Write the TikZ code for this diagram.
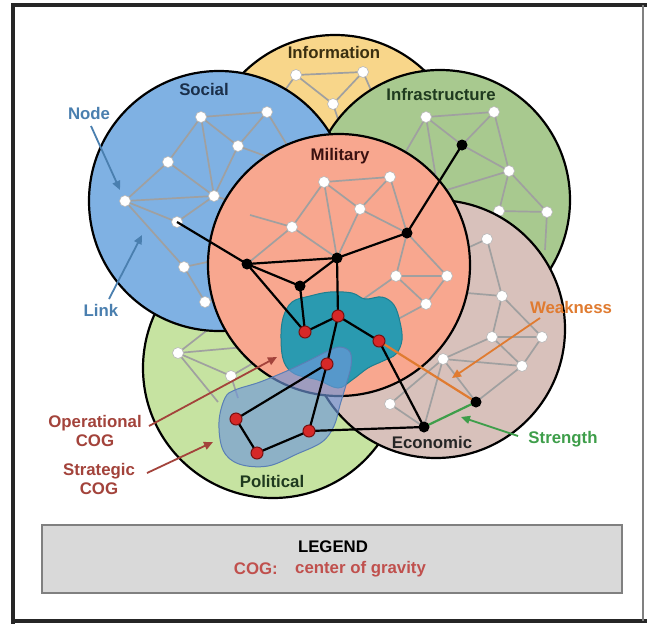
\documentclass[tikz,border=0pt]{standalone}
\usepackage{fontspec}
\setmainfont{Liberation Sans}
\usetikzlibrary{arrows.meta}
\definecolor{infoY}{HTML}{F8D68A}
\definecolor{socB}{HTML}{7FB1E3}
\definecolor{infG}{HTML}{A8C98F}
\definecolor{polG}{HTML}{C6E3A1}
\definecolor{ecoR}{HTML}{D8C1BB}
\definecolor{milS}{HTML}{F8A78F}
\definecolor{tealF}{HTML}{2A9AB0}
\definecolor{tealD}{HTML}{1E7F90}
\definecolor{stratF}{HTML}{6F97DA}
\definecolor{stratD}{HTML}{5A7FB5}
\definecolor{linkgray}{HTML}{A0A0A0}
\definecolor{cogred}{HTML}{D62828}
\definecolor{darkred}{HTML}{7A1010}
\definecolor{noteblue}{HTML}{4A7FAF}
\definecolor{weakO}{HTML}{E07B30}
\definecolor{strG}{HTML}{3E9E4A}
\definecolor{cogtxt}{HTML}{A3433B}
\definecolor{legred}{HTML}{C0504D}
\definecolor{legfill}{HTML}{D9D9D9}
\definecolor{socT}{HTML}{1A2F4A}
\definecolor{greenT}{HTML}{1F3A1F}
\definecolor{infoT}{HTML}{3A2F10}
\definecolor{milT}{HTML}{3A1010}
\begin{document}
\begin{tikzpicture}[x=1pt,y=-1pt,
  ring/.style={draw=black, line width=2.2pt},
  lnk/.style={draw=linkgray, line width=1.7pt},
  blk/.style={draw=black, line width=2.2pt},
  wnode/.style={circle, fill=white, draw=gray!55, line width=0.6pt, inner sep=0pt, minimum size=11pt},
  knode/.style={circle, fill=black, inner sep=0pt, minimum size=11pt},
  rnode/.style={circle, fill=cogred, draw=darkred, line width=1pt, inner sep=0pt, minimum size=12pt},
  lbl/.style={font=\fontsize{16.8}{19}\selectfont\bfseries, inner sep=0pt},
  callout/.style={line width=1.8pt, -{Triangle[length=9pt,width=8pt]}},
]
\useasboundingbox (0,0) rectangle (647,624);
\fill[white] (0,0) rectangle (647,624);

% ---------- domain centres ----------
\coordinate (cInfo) at (335,165);
\coordinate (cSoc) at (219,201);
\coordinate (cInf) at (440,200);
\coordinate (cPol) at (273,368);
\coordinate (cEco) at (436,329);
\coordinate (cMil) at (339,265);

% ---------- network points ----------
% information
\coordinate (n1) at (296,75);  \coordinate (n2) at (363,72);  \coordinate (n3) at (333,104);
\coordinate (n1a) at (272,108); \coordinate (n3a) at (345,140); \coordinate (n2a) at (385,122);
% infrastructure
\coordinate (f1) at (426,117); \coordinate (f2) at (494,112); \coordinate (f3) at (509,171);
\coordinate (f4) at (547,212); \coordinate (f5) at (499,211); \coordinate (kf) at (462,145);
\coordinate (f1a) at (398,165); \coordinate (f1b) at (436,178); \coordinate (f3a) at (440,192);
\coordinate (f4a) at (545,250); \coordinate (f5a) at (470,240);
% political
\coordinate (p1) at (178,353); \coordinate (p2) at (231,376);
\coordinate (p1a) at (245,347); \coordinate (p1b) at (210,328); \coordinate (p1c) at (218,402);
\coordinate (p2a) at (255,362); \coordinate (p2b) at (238,398);
% social
\coordinate (s1) at (201,117); \coordinate (s2) at (267,112); \coordinate (s3) at (238,146);
\coordinate (s4) at (168,162); \coordinate (s5) at (214,196); \coordinate (s6) at (125,201);
\coordinate (s7) at (177,222); \coordinate (s8) at (184,267); \coordinate (s9) at (205,302);
\coordinate (s2a) at (290,150); \coordinate (s3a) at (290,165); \coordinate (s5a) at (262,210);
\coordinate (s8a) at (240,255); \coordinate (s9a) at (245,292);
% economic
\coordinate (e1) at (487,239); \coordinate (e2) at (502,296); \coordinate (e3) at (492,337);
\coordinate (e4) at (542,337); \coordinate (e5) at (443,359); \coordinate (e6) at (522,366);
\coordinate (e7) at (390,404);
\coordinate (e1a) at (452,255); \coordinate (e2a) at (455,292);
% military
\coordinate (m1) at (324,182); \coordinate (m2) at (390,177); \coordinate (m3) at (360,209);
\coordinate (m4) at (292,227); \coordinate (m5) at (396,276); \coordinate (m6) at (447,276);
\coordinate (m7) at (426,304);
\coordinate (m4a) at (250,215); \coordinate (m5a) at (362,300); \coordinate (m7a) at (385,326);
% black, red and economic key points
\coordinate (k1) at (247,264); \coordinate (k2) at (337,258); \coordinate (k3) at (407,233);
\coordinate (k4) at (300,286); \coordinate (ke1) at (476,402); \coordinate (ke2) at (424,427);
\coordinate (r1) at (305,332); \coordinate (r2) at (338,316); \coordinate (r3) at (379,341);
\coordinate (r4) at (327,364); \coordinate (r5) at (236,419); \coordinate (r6) at (257,453);
\coordinate (r7) at (309,431);

% ---------- Information ----------
\fill[infoY] (cInfo) circle[radius=130pt];
\draw[lnk] (n1)--(n2) (n1)--(n3) (n2)--(n3) (n1)--(n1a) (n3)--(n3a) (n2)--(n2a);
\foreach \p in {n1,n2,n3} \node[wnode] (\p-w) at (\p) {};
\draw[ring] (cInfo) circle[radius=130pt];

% ---------- Infrastructure ----------
\fill[infG] (cInf) circle[radius=130pt];
\draw[lnk] (f1)--(f2) (f1)--(kf) (f2)--(kf) (f2)--(f3) (kf)--(f3) (f3)--(f4) (f3)--(f5)
  (f5)--(f4) (f1)--(f1a) (f1)--(f1b) (f3)--(f3a) (f4)--(f4a) (f5)--(f5a);
\foreach \p in {f1,f2,f3,f4,f5} \node[wnode] (\p-w) at (\p) {};
\draw[ring] (cInf) circle[radius=130pt];

% ---------- Political ----------
\fill[polG] (cPol) circle[radius=130pt];
\draw[lnk] (p1)--(p2) (p1)--(p1a) (p1)--(p1b) (p1)--(p1c) (p2)--(p2a) (p2)--(p2b);
\foreach \p in {p1,p2} \node[wnode] (\p-w) at (\p) {};
\draw[ring] (cPol) circle[radius=130pt];

% ---------- Social ----------
\fill[socB] (cSoc) circle[radius=130pt];
\draw[lnk] (s1)--(s2) (s1)--(s3) (s1)--(s4) (s1)--(s5) (s2)--(s3) (s3)--(s5) (s4)--(s6)
  (s4)--(s5) (s6)--(s5) (s6)--(s7) (s6)--(s8) (s7)--(s5) (s2)--(s2a) (s3)--(s3a)
  (s5)--(s5a) (s8)--(s8a) (s9)--(s9a) (s8)--(s9);
\foreach \p in {s1,s2,s3,s4,s5,s6,s7,s8,s9} \node[wnode] (\p-w) at (\p) {};
\draw[ring] (cSoc) circle[radius=130pt];

% ---------- Economic ----------
\fill[ecoR] (cEco) circle[radius=129pt];
\draw[lnk] (e1)--(e2) (e1)--(e1a) (e2)--(e3) (e2)--(e4) (e2)--(e2a) (e3)--(e4) (e3)--(e5)
  (e3)--(e6) (e4)--(e6) (e5)--(e6) (e5)--(e7) (e5)--(ke2) (e6)--(ke1) (e7)--(ke2) (e5)--(ke1);
\foreach \p in {e1,e2,e3,e4,e5,e6,e7} \node[wnode] (\p-w) at (\p) {};
\draw[ring] (cEco) circle[radius=129pt];

% ---------- Military ----------
\fill[milS] (cMil) circle[radius=131pt];
\draw[lnk] (m1)--(m2) (m1)--(m3) (m1)--(m4) (m1)--(k2) (m2)--(m3) (m2)--(k3) (m3)--(k3)
  (m3)--(k2) (m4)--(k1) (m4)--(k2) (k3)--(m5) (k3)--(m6) (m5)--(m6) (m5)--(m7) (m6)--(m7)
  (m5)--(m5a) (m7)--(m7a) (m4)--(m4a);
\foreach \p in {m1,m2,m3,m4,m5,m6,m7} \node[wnode] (\p-w) at (\p) {};
\draw[ring] (cMil) circle[radius=131pt];

% ---------- centres of gravity ----------
\draw[tealD, fill=tealF, line width=1pt] plot[smooth cycle, tension=0.6] coordinates {
  (283,318) (292,302) (310,296) (330,292) (352,293) (365,299) (382,297) (394,305)
  (400,322) (402,340) (396,354) (383,361) (368,368) (352,380) (338,388) (318,380)
  (295,374) (284,362) (281,340)};
\draw[stratD, fill=stratF, fill opacity=0.65, line width=1pt] plot[smooth cycle, tension=0.6] coordinates {
  (225,398) (219,422) (223,450) (239,464) (268,466) (297,454) (322,442) (334,426)
  (340,405) (346,385) (351,366) (350,352) (340,347) (328,351) (312,359) (289,370)
  (260,382) (235,390)};

% ---------- strategic links ----------
\draw[blk] (s7)--(k1) (k1)--(k2) (k1)--(k4) (k1)--(r1) (k2)--(k4) (k2)--(k3) (k3)--(kf)
  (k2)--(r2) (k4)--(r1) (r1)--(r2) (r2)--(r3) (r2)--(r4) (r4)--(r7) (r4)--(r5)
  (r5)--(r6) (r6)--(r7) (r7)--(ke2) (r3)--(ke2);
\draw[weakO, line width=2.2pt] (r3)--(ke1);
\draw[strG, line width=2.2pt] (ke2)--(ke1);
\foreach \p in {k1,k2,k3,k4,kf,ke1,ke2} \node[knode] (\p-k) at (\p) {};
\foreach \p in {r1,r2,r3,r4,r5,r6,r7} \node[rnode] (\p-r) at (\p) {};

% ---------- domain titles ----------
\node[lbl, text=infoT] (tInfo) at (334,52) {Information};
\node[lbl, text=socT] (tSoc) at (204,89) {Social};
\node[lbl, text=greenT] (tInf) at (441,94) {Infrastructure};
\node[lbl, text=milT] (tMil) at (340,156) {Military};
\node[lbl, text=black!85] (tEco) at (432,442) {Economic};
\node[lbl, text=greenT] (tPol) at (272,481) {Political};

% ---------- callouts ----------
\node[lbl, text=noteblue] (lNode) at (89,113) {Node};
\node[lbl, text=noteblue] (lLink) at (101,310) {Link};
\node[lbl, text=weakO] (lWeak) at (571,307) {Weakness};
\node[lbl, text=strG] (lStr) at (563,439) {Strength};
\node[lbl, text=cogtxt, align=center] (lOp) at (95,431) {Operational\\COG};
\node[lbl, text=cogtxt, align=center] (lSt) at (99,479) {Strategic\\COG};

\coordinate (aNode) at (120,190);
\coordinate (aLink) at (142,235);
\coordinate (aWeak) at (452,378);
\coordinate (aStr) at (461,417);
\coordinate (aOp) at (277,357);
\coordinate (aSt) at (213,442);
\draw[callout, noteblue] (91,126) -- (aNode);
\draw[callout, noteblue] (109,299) -- (aLink);
\draw[callout, weakO] (540,318) -- (aWeak);
\draw[callout, strG] (518,436) -- (aStr);
\draw[callout, cogtxt] (149,426) -- (aOp);
\draw[callout, cogtxt] (147,473) -- (aSt);

% ---------- legend ----------
\draw[draw=gray, fill=legfill, line width=1.5pt] (42,525) rectangle (622,593);
\node[lbl] (legT) at (333,547) {LEGEND};
\node[lbl, text=legred, anchor=east] (legK) at (278,569) {COG:};
\node[lbl, text=legred, anchor=west] (legV) at (295,569) {center of gravity};

% ---------- frame ----------
\draw[black!85, line width=4pt] (13,3) -- (13,624);
\draw[black!85, line width=4pt] (11,5) -- (647,5);
\draw[black!85, line width=4pt] (11,621) -- (647,621);
\draw[gray, line width=1.5pt] (643,5) -- (643,621);
\end{tikzpicture}
\end{document}
